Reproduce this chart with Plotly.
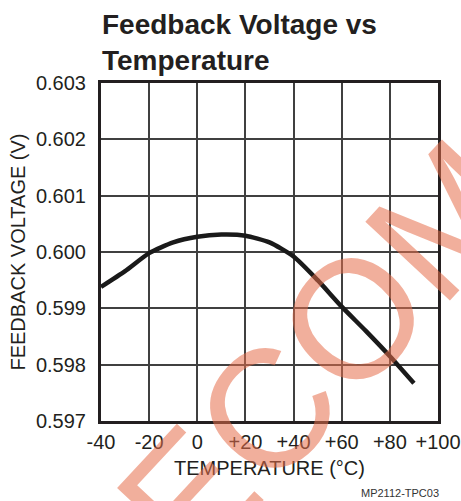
import plotly.graph_objects as go

# Data
temperature_c = [-40, -30, -20, -10, 0, 10, 20, 30, 40, 50, 60, 70, 80, 90]
feedback_v = [0.59938, 0.59966, 0.59998, 0.60017, 0.60027, 0.60031, 0.60029,
              0.60017, 0.59992, 0.59950, 0.59903, 0.59860, 0.59815, 0.59767]

x_tickvals = [-40, -20, 0, 20, 40, 60, 80, 100]
x_ticktext = ["-40", "-20", "0", "+20", "+40", "+60", "+80", "+100"]
y_tickvals = [0.597, 0.598, 0.599, 0.600, 0.601, 0.602, 0.603]
y_ticktext = ["0.597", "0.598", "0.599", "0.600", "0.601", "0.602", "0.603"]

FONT = "Liberation Sans, Arial, sans-serif"
TXT = "#231f20"

fig = go.Figure()
fig.add_trace(go.Scatter(
    x=temperature_c, y=feedback_v, mode="lines",
    line=dict(color="#1a1a1a", width=4.5, shape="spline", smoothing=0.6),
    hoverinfo="skip", showlegend=False,
))

fig.update_layout(
    width=461, height=501,
    margin=dict(l=101, r=23, t=83, b=80, autoexpand=False),
    paper_bgcolor="white", plot_bgcolor="white",
    font=dict(family=FONT, color=TXT),
    title=dict(
        text="<b>Feedback Voltage vs<br>Temperature</b>",
        font=dict(family=FONT, size=28, color=TXT),
        x=102 / 461, xanchor="left", xref="container",
        y=1 - 34 / 501, yanchor="top", yref="container",
        automargin=False,
    ),
    xaxis=dict(
        range=[-40, 100], tickvals=x_tickvals, ticktext=x_ticktext,
        showgrid=True, gridcolor="#404040", gridwidth=1.5,
        showline=True, linecolor="#231f20", linewidth=3, mirror=True,
        ticks="", ticklabelstandoff=1, automargin=False,
        tickfont=dict(family=FONT, size=20, color=TXT),
        title=dict(text="TEMPERATURE (°C)", font=dict(family=FONT, size=20, color=TXT), standoff=9),
        zeroline=False,
    ),
    yaxis=dict(
        range=[0.597, 0.603], tickvals=y_tickvals, ticktext=y_ticktext,
        showgrid=True, gridcolor="#404040", gridwidth=1.5,
        showline=True, linecolor="#231f20", linewidth=3, mirror=True,
        ticks="", ticklabelstandoff=8, automargin=False,
        tickfont=dict(family=FONT, size=20, color=TXT),
        title=dict(text="FEEDBACK VOLTAGE (V)", font=dict(family=FONT, size=20, color=TXT), standoff=5),
        zeroline=False,
    ),
)

# Watermark
fig.add_annotation(
    text="ECOM", xref="paper", yref="paper", x=0.655, y=0.2,
    xanchor="center", yanchor="middle", showarrow=False, textangle=-47,
    font=dict(family=FONT, size=168, color="rgba(230,110,75,0.55)"),
)

# Figure code
fig.add_annotation(
    text="MP2112-TPC03", xref="paper", yref="paper", x=(400 - 101) / 337, y=-0.212,
    xanchor="center", yanchor="middle", showarrow=False,
    font=dict(family=FONT, size=11, color="#333333"),
)

fig.write_html(
    "out.html",
    config={"displayModeBar": False},
    post_script="document.body.style.margin='0';document.body.style.overflow='hidden';",
)
